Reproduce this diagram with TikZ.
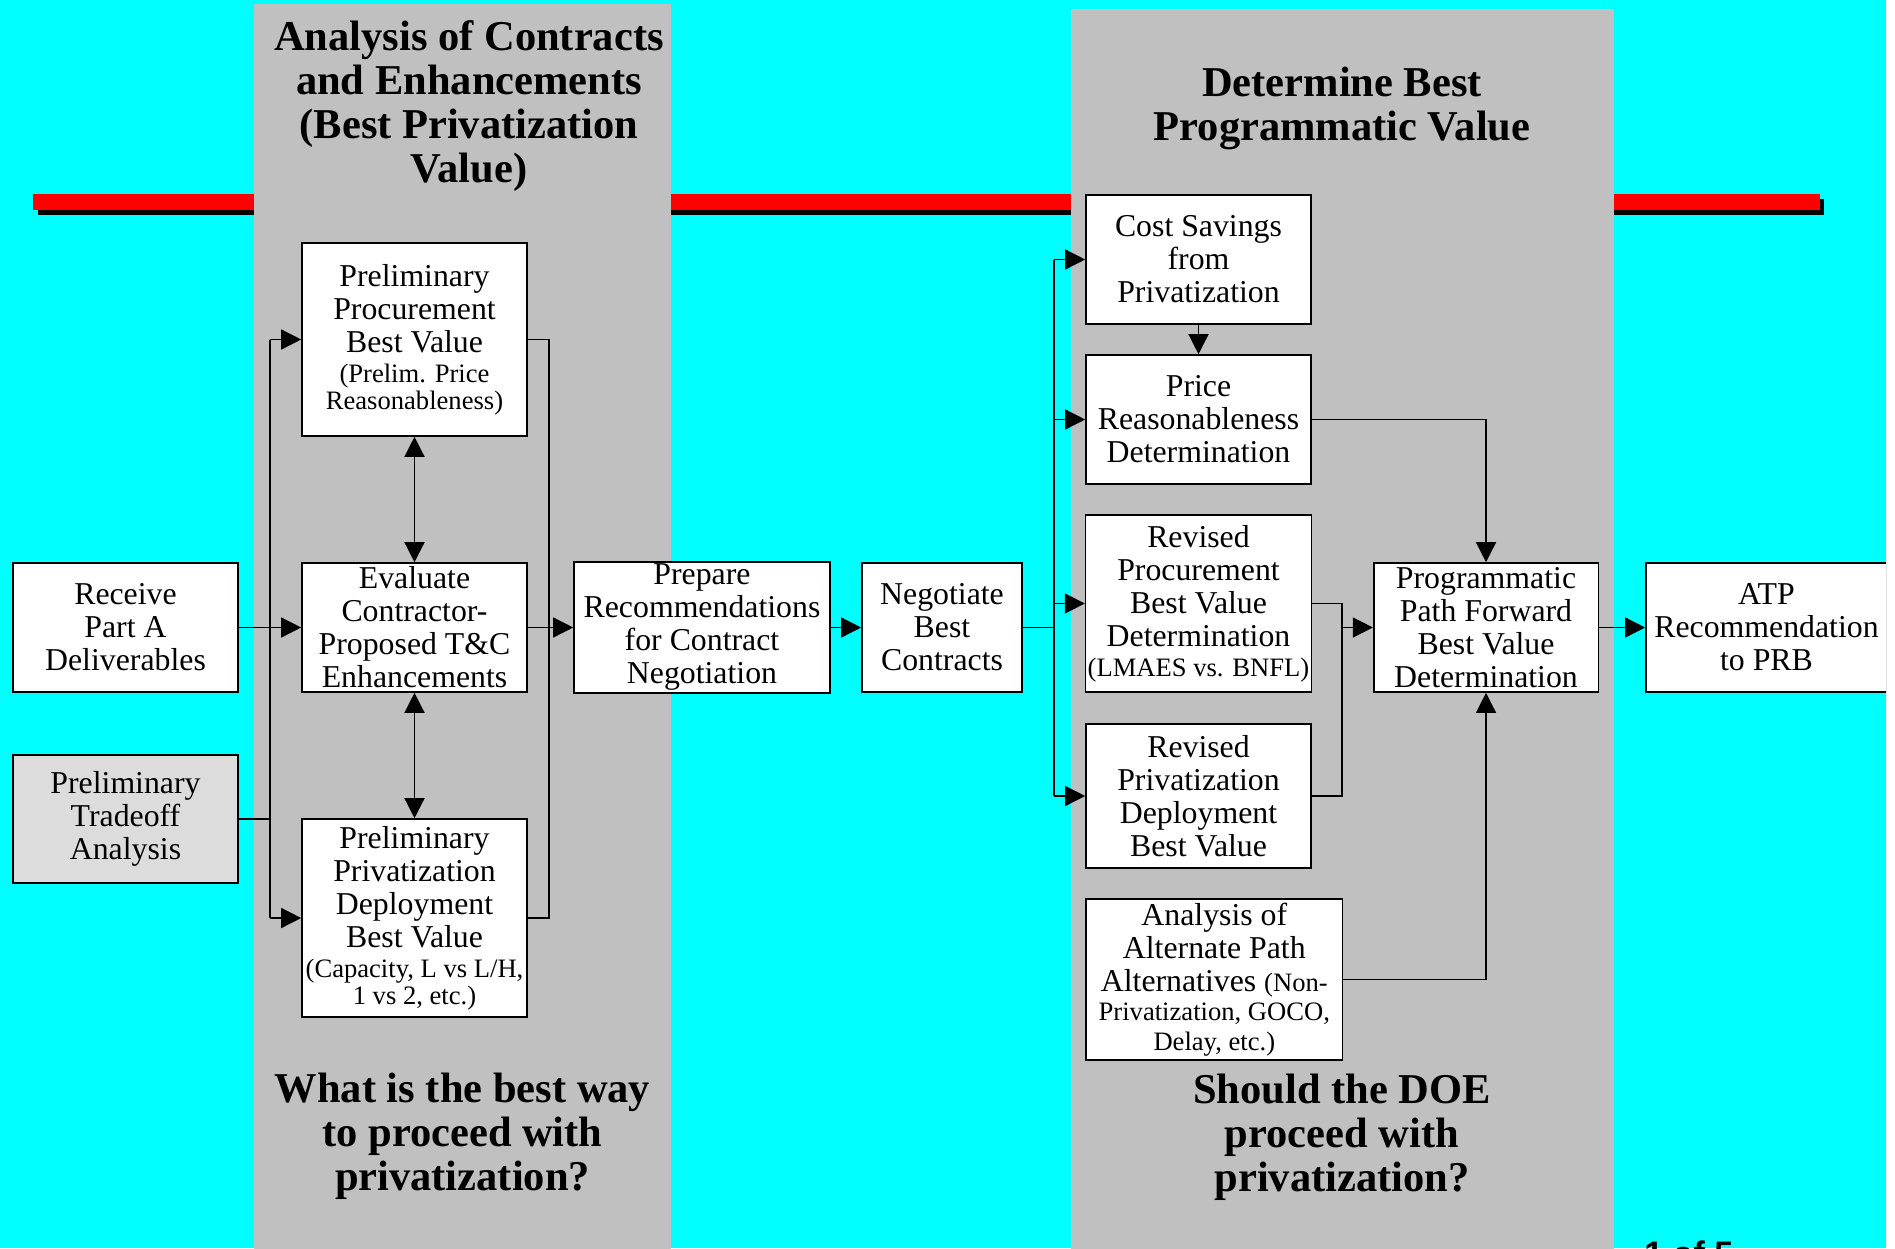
\documentclass[tikz,border=0pt]{standalone}
\usepackage{fontspec}
\setmainfont{Liberation Serif}
\newfontfamily\pagefont{Liberation Sans}
\usetikzlibrary{arrows.meta}

\definecolor{skycyan}{HTML}{00FFFF}
\definecolor{panelgray}{HTML}{C0C0C0}
\definecolor{inputgray}{HTML}{DCDCDC}

\newcommand\bodyfont{\fontsize{15.9}{16.5}\selectfont}
\newcommand\smalltxt{\fontsize{13.3}{13}\selectfont}
\newcommand\titlefont{\fontsize{21.25}{22}\selectfont\bfseries}

\tikzset{
  box/.style={draw, fill=white, line width=0.8pt, align=center, inner sep=1pt,
    minimum width=112.5pt, minimum height=64.5pt, font=\bodyfont},
  title/.style={align=center, inner sep=0pt, font=\titlefont},
  link/.style={line width=0.7pt},
  arr/.style={link, -{Triangle[length=10pt,width=10pt]}},
  dblarr/.style={link, {Triangle[length=10pt,width=10pt]}-{Triangle[length=10pt,width=10pt]}},
}

\begin{document}
\begin{tikzpicture}[x=0.5pt,y=-0.5pt]

    \useasboundingbox (0,0) rectangle (1895,1248);
    \fill[white] (0,0) rectangle (1895,1248);

    \begin{scope}
    \clip (0,0) rectangle (1886,1248);
    \fill[skycyan] (0,0) rectangle (1886,1248);

    %%%%%%%%%%%%%%%%%%
    %%%%% Banner %%%%%
    %%%%%%%%%%%%%%%%%%

    % Red bar with its black shadow
    \fill[black] (38,199) rectangle (1824,215);
    \fill[red] (33,194) rectangle (1819.5,210);

    % The two grey columns
    \fill[panelgray] (254,4) rectangle (671,1250);
    \fill[panelgray] (1070.5,9) rectangle (1614,1250);

    \node[title] (ttlA) at (469,106.5) {Analysis of Contracts\\ and Enhancements\\ (Best Privatization\\ Value)};
    \node[title] (ttlB) at (1342,108.5) {Determine Best\\ Programmatic Value};
    \node[title] (askA) at (462.5,1136.5) {What is the best way\\ to proceed with\\ privatization?};
    \node[title] (askB) at (1342,1137) {Should the DOE\\ proceed with\\ privatization?};

    %%%%%%%%%%%%%%%%%%
    %%%%% Step 1 %%%%%
    %%%%%%%%%%%%%%%%%%

    \node[box] (recv) at (125.5,627.5) {Receive\\ Part A\\ Deliverables};
    \node[box, fill=inputgray, minimum height=64pt] (trade) at (125.5,819) {Preliminary\\ Tradeoff\\ Analysis};

    \node[box, minimum height=96.5pt] (pproc) at (414.5,339.5)
      {Preliminary\\ Procurement\\ Best Value\\[-1.5pt] \smalltxt (Prelim. Price\\[-3.2pt] \smalltxt Reasonableness)};
    \node[box] (evalc) at (414.5,627.5)
      {Evaluate\\ Contractor-\\ Proposed T\&C\\ Enhancements};
    \node[box, minimum height=99pt] (ppriv) at (414.5,918)
      {Preliminary\\ Privatization\\ Deployment\\ Best Value\\[-1.5pt] \smalltxt (Capacity, L vs L/H,\\[-3.2pt] \smalltxt 1 vs 2, etc.)};

    % Bus lines on each side of the column
    \coordinate (busL) at (270,0);
    \coordinate (busR) at (549,0);

    \draw[link] (trade.east) -- (trade.east -| busL);
    \draw[link] (busL |- pproc.west) -- (busL |- ppriv.west);
    \draw[arr] (busL |- pproc.west) -- (pproc.west);
    \draw[arr] (busL |- ppriv.west) -- (ppriv.west);
    \draw[arr] (recv) -- (evalc);

    \draw[dblarr] (pproc) -- (evalc);
    \draw[dblarr] (evalc) -- (ppriv);

    \draw[link] (pproc.east) -| (busR |- ppriv.east) -- (ppriv.east);

    %%%%%%%%%%%%%%%%%%
    %%%%% Step 2 %%%%%
    %%%%%%%%%%%%%%%%%%

    \node[box, minimum width=128pt] (prep) at (702,627.5)
      {Prepare\\ Recommendations\\ for Contract\\ Negotiation};
    \node[box, minimum width=80pt] (nego) at (942,627.5) {Negotiate\\ Best\\ Contracts};

    \draw[arr] (evalc) -- (prep);
    \draw[arr] (prep) -- (nego);

    %%%%%%%%%%%%%%%%%%
    %%%%% Step 3 %%%%%
    %%%%%%%%%%%%%%%%%%

    \node[box] (cost) at (1198.5,259.5) {Cost Savings\\ from\\ Privatization};
    \node[box] (price) at (1198.5,419.5) {Price\\ Reasonableness\\ Determination};
    \node[box, minimum height=88.5pt] (rproc) at (1198.5,603.5)
      {Revised\\ Procurement\\ Best Value\\ Determination\\[-1.5pt] \smalltxt (LMAES vs. BNFL)};
    \node[box, minimum height=72pt] (rpriv) at (1198.5,796)
      {Revised\\ Privatization\\ Deployment\\ Best Value};
    \node[box, minimum width=128.3pt, minimum height=80.5pt] (alt) at (1214.3,979.5)
      {Analysis of\\ Alternate Path\\ Alternatives {\smalltxt (Non-}\\[-2pt] \smalltxt Privatization, GOCO,\\[-1.5pt] \smalltxt Delay, etc.)};

    \node[box, minimum width=112.3pt] (prog) at (1486,627.5)
      {Programmatic\\ Path Forward\\ Best Value\\ Determination};
    \node[box, minimum width=120.5pt] (atp) at (1766.5,627.5) {ATP\\ Recommendation\\ to PRB};

    \coordinate (busM) at (1054,0);
    \coordinate (busP) at (1342,0);

    % Fan out after negotiation
    \draw[link] (nego.east) -- (nego.east -| busM);
    \draw[link] (busM |- cost.west) -- (busM |- rpriv.west);
    \foreach \n in {cost,price,rproc,rpriv}
      \draw[arr] (busM |- \n.west) -- (\n.west);

    \draw[arr] (cost) -- (price);
    \draw[arr] (price.east) -| (prog.north);

    % Join the two revised values
    \draw[link] (rproc.east) -| (busP |- rpriv.east) -- (rpriv.east);
    \draw[arr] (busP |- prog.west) -- (prog.west);

    \draw[arr] (alt.east) -| (prog.south);
    \draw[arr] (prog) -- (atp);

    % Page number, cut by the lower edge
    \node[anchor=base west, inner sep=0pt, font=\pagefont\bfseries\fontsize{17}{17}\selectfont] (pageno) at (1644,1265) {1 of 5};
    \end{scope}

\end{tikzpicture}
\end{document}
